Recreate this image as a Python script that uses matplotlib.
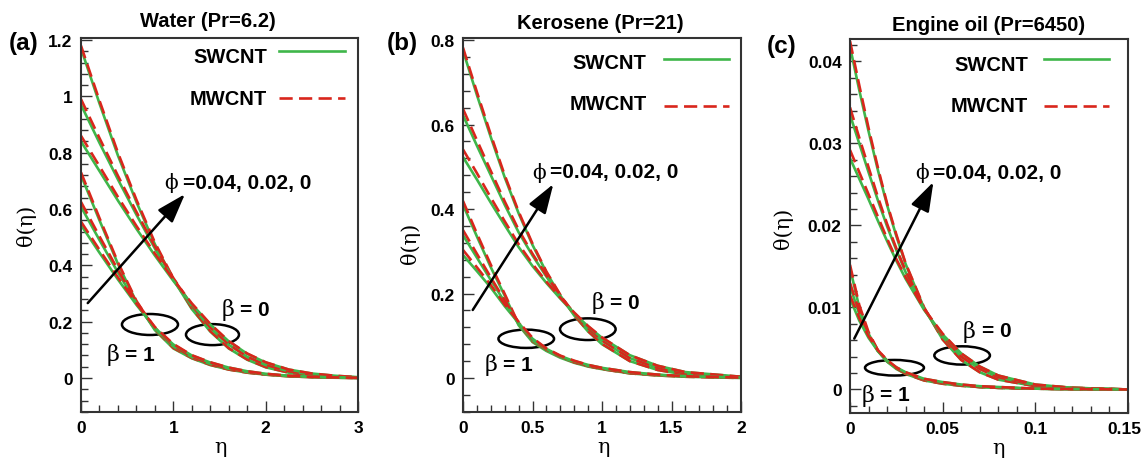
import matplotlib
matplotlib.use('Agg')
import matplotlib.pyplot as plt
from matplotlib.patches import Ellipse
from matplotlib.ticker import MultipleLocator, FuncFormatter

plt.rcParams['font.family'] = ['Liberation Sans', 'DejaVu Sans']
plt.rcParams['font.weight'] = 'bold'

GREEN = '#3fb64a'
RED = '#d9261c'
SERIF = ['DejaVu Serif']

# ---- (a) Water, Pr = 6.2 ----
eta_a = [0, 0.2, 0.4, 0.6, 0.8, 1.0, 1.2, 1.4, 1.6, 1.8, 2.0, 2.25, 2.5, 2.75, 3.0]
# beta = 0, three phi values (SWCNT / MWCNT)
a_b0_s1 = [1.17, 0.975, 0.79, 0.625, 0.475, 0.35, 0.245, 0.165, 0.105, 0.065, 0.038, 0.019, 0.009, 0.004, 0.001]
a_b0_m1 = [1.18, 0.985, 0.80, 0.633, 0.481, 0.354, 0.248, 0.167, 0.106, 0.066, 0.039, 0.019, 0.009, 0.004, 0.001]
a_b0_s2 = [0.97, 0.835, 0.705, 0.58, 0.46, 0.35, 0.255, 0.178, 0.118, 0.075, 0.046, 0.024, 0.012, 0.005, 0.002]
a_b0_m2 = [0.99, 0.852, 0.718, 0.59, 0.467, 0.355, 0.258, 0.18, 0.12, 0.076, 0.047, 0.024, 0.012, 0.005, 0.002]
a_b0_s3 = [0.84, 0.735, 0.63, 0.53, 0.435, 0.345, 0.262, 0.19, 0.13, 0.086, 0.055, 0.03, 0.016, 0.008, 0.003]
a_b0_m3 = [0.86, 0.752, 0.643, 0.54, 0.442, 0.35, 0.265, 0.192, 0.131, 0.087, 0.056, 0.03, 0.016, 0.008, 0.003]
# beta = 1
a_b1_s1 = [0.72, 0.56, 0.405, 0.27, 0.17, 0.105, 0.07, 0.046, 0.03, 0.019, 0.012, 0.006, 0.003, 0.001, 0.0]
a_b1_m1 = [0.73, 0.568, 0.411, 0.274, 0.173, 0.107, 0.071, 0.047, 0.03, 0.019, 0.012, 0.006, 0.003, 0.001, 0.0]
a_b1_s2 = [0.608, 0.49, 0.375, 0.265, 0.175, 0.112, 0.074, 0.05, 0.033, 0.021, 0.013, 0.007, 0.004, 0.002, 0.0]
a_b1_m2 = [0.625, 0.503, 0.384, 0.271, 0.179, 0.114, 0.075, 0.05, 0.033, 0.021, 0.013, 0.007, 0.004, 0.002, 0.0]
a_b1_s3 = [0.543, 0.445, 0.35, 0.26, 0.178, 0.119, 0.08, 0.055, 0.037, 0.024, 0.015, 0.008, 0.004, 0.002, 0.001]
a_b1_m3 = [0.555, 0.455, 0.357, 0.265, 0.181, 0.121, 0.081, 0.056, 0.037, 0.024, 0.015, 0.008, 0.004, 0.002, 0.001]

# ---- (b) Kerosene, Pr = 21 ----
eta_b = [0, 0.1, 0.2, 0.3, 0.4, 0.5, 0.6, 0.7, 0.8, 0.9, 1.0, 1.2, 1.4, 1.6, 2.0]
b_b0_s1 = [0.775, 0.67, 0.57, 0.475, 0.39, 0.315, 0.25, 0.195, 0.148, 0.11, 0.08, 0.04, 0.019, 0.008, 0.001]
b_b0_m1 = [0.782, 0.677, 0.576, 0.48, 0.394, 0.318, 0.252, 0.197, 0.149, 0.111, 0.081, 0.04, 0.019, 0.008, 0.001]
b_b0_s2 = [0.622, 0.55, 0.48, 0.41, 0.345, 0.29, 0.24, 0.193, 0.152, 0.117, 0.088, 0.047, 0.024, 0.011, 0.002]
b_b0_m2 = [0.637, 0.563, 0.49, 0.418, 0.351, 0.294, 0.243, 0.195, 0.153, 0.118, 0.089, 0.047, 0.024, 0.011, 0.002]
b_b0_s3 = [0.523, 0.47, 0.415, 0.362, 0.31, 0.265, 0.225, 0.188, 0.153, 0.122, 0.095, 0.054, 0.029, 0.014, 0.003]
b_b0_m3 = [0.541, 0.485, 0.427, 0.371, 0.317, 0.27, 0.228, 0.19, 0.155, 0.123, 0.096, 0.054, 0.029, 0.014, 0.003]
b_b1_s1 = [0.41, 0.335, 0.262, 0.195, 0.125, 0.085, 0.064, 0.048, 0.036, 0.027, 0.021, 0.011, 0.006, 0.003, 0.0]
b_b1_m1 = [0.419, 0.342, 0.268, 0.199, 0.128, 0.087, 0.067, 0.05, 0.037, 0.028, 0.021, 0.011, 0.006, 0.003, 0.0]
b_b1_s2 = [0.338, 0.285, 0.232, 0.18, 0.128, 0.089, 0.066, 0.05, 0.038, 0.029, 0.022, 0.012, 0.007, 0.004, 0.001]
b_b1_m2 = [0.35, 0.294, 0.238, 0.184, 0.131, 0.091, 0.067, 0.051, 0.038, 0.029, 0.022, 0.012, 0.007, 0.004, 0.001]
b_b1_s3 = [0.291, 0.253, 0.214, 0.17, 0.13, 0.093, 0.069, 0.052, 0.04, 0.031, 0.024, 0.014, 0.008, 0.004, 0.001]
b_b1_m3 = [0.303, 0.262, 0.22, 0.174, 0.133, 0.095, 0.07, 0.053, 0.041, 0.031, 0.024, 0.014, 0.008, 0.004, 0.001]

# ---- (c) Engine oil, Pr = 6450 ----
eta_c = [0, 0.005, 0.01, 0.015, 0.02, 0.025, 0.03, 0.04, 0.05, 0.06, 0.07, 0.08, 0.1, 0.12, 0.15]
c_b0_s1 = [0.0418, 0.0365, 0.0315, 0.0268, 0.0225, 0.0187, 0.0153, 0.0099, 0.0061, 0.0036, 0.0021, 0.0012, 0.0004, 0.0001, 0.0]
c_b0_m1 = [0.0425, 0.0371, 0.0319, 0.0271, 0.0227, 0.0189, 0.0154, 0.0100, 0.0061, 0.0036, 0.0021, 0.0012, 0.0004, 0.0001, 0.0]
c_b0_s2 = [0.0335, 0.0300, 0.0265, 0.0231, 0.0199, 0.0170, 0.0143, 0.0098, 0.0064, 0.0040, 0.0025, 0.0015, 0.0005, 0.0002, 0.0]
c_b0_m2 = [0.0344, 0.0307, 0.0271, 0.0235, 0.0202, 0.0172, 0.0145, 0.0099, 0.0065, 0.0040, 0.0025, 0.0015, 0.0005, 0.0002, 0.0]
c_b0_s3 = [0.0282, 0.0257, 0.0232, 0.0206, 0.0181, 0.0157, 0.0135, 0.0097, 0.0067, 0.0044, 0.0028, 0.0017, 0.0006, 0.0002, 0.0]
c_b0_m3 = [0.0292, 0.0265, 0.0238, 0.0211, 0.0184, 0.0159, 0.0137, 0.0098, 0.0068, 0.0044, 0.0028, 0.0017, 0.0006, 0.0002, 0.0]
c_b1_s1 = [0.0148, 0.0100, 0.0068, 0.0047, 0.0034, 0.0025, 0.0019, 0.0011, 0.0007, 0.00045, 0.0003, 0.0002, 0.0001, 0.00003, 0.0]
c_b1_m1 = [0.0152, 0.0103, 0.0070, 0.0048, 0.0035, 0.0026, 0.0019, 0.0011, 0.0007, 0.00045, 0.0003, 0.0002, 0.0001, 0.00003, 0.0]
c_b1_s2 = [0.0126, 0.0092, 0.0066, 0.0047, 0.0034, 0.0026, 0.0020, 0.0012, 0.0008, 0.0005, 0.0003, 0.0002, 0.0001, 0.00004, 0.0]
c_b1_m2 = [0.0130, 0.0095, 0.0068, 0.0048, 0.0035, 0.0026, 0.0020, 0.0012, 0.0008, 0.0005, 0.0003, 0.0002, 0.0001, 0.00004, 0.0]
c_b1_s3 = [0.0111, 0.0084, 0.0063, 0.0047, 0.0035, 0.0027, 0.0021, 0.0013, 0.0009, 0.0006, 0.0004, 0.0003, 0.0001, 0.00005, 0.0]
c_b1_m3 = [0.0115, 0.0087, 0.0065, 0.0048, 0.0036, 0.0027, 0.0021, 0.0013, 0.0009, 0.0006, 0.0004, 0.0003, 0.0001, 0.00005, 0.0]

titles = ['Water (Pr=6.2)', 'Kerosene (Pr=21)', 'Engine oil (Pr=6450)']
tags = ['(a)', '(b)', '(c)']

fig = plt.figure(figsize=(11.42, 4.6), dpi=100)
W, H = 1142.0, 460.0


def box(l, r, t, b):
    return [l / W, 1 - b / H, (r - l) / W, (b - t) / H]


axes = [fig.add_axes(box(81, 358, 38.5, 413)),
        fig.add_axes(box(463, 741, 38.5, 413)),
        fig.add_axes(box(850, 1128, 40, 414))]

panels = [
    (eta_a, [(a_b0_s1, a_b0_m1), (a_b0_s2, a_b0_m2), (a_b0_s3, a_b0_m3),
             (a_b1_s1, a_b1_m1), (a_b1_s2, a_b1_m2), (a_b1_s3, a_b1_m3)]),
    (eta_b, [(b_b0_s1, b_b0_m1), (b_b0_s2, b_b0_m2), (b_b0_s3, b_b0_m3),
             (b_b1_s1, b_b1_m1), (b_b1_s2, b_b1_m2), (b_b1_s3, b_b1_m3)]),
    (eta_c, [(c_b0_s1, c_b0_m1), (c_b0_s2, c_b0_m2), (c_b0_s3, c_b0_m3),
             (c_b1_s1, c_b1_m1), (c_b1_s2, c_b1_m2), (c_b1_s3, c_b1_m3)]),
]

for ax, (eta, curves) in zip(axes, panels):
    for s, m in curves:
        ax.plot(eta, s, color=GREEN, lw=1.9, solid_capstyle='butt')
        ax.plot(eta, m, color=RED, lw=1.9, dashes=(5.0, 2.4))

# axis ranges and ticks
lims = [((0, 3), (-0.1207, 1.209), 1, 0.2, 0.2, 0.04),
        ((0, 2), (-0.0805, 0.806), 0.5, 0.1, 0.2, 0.04),
        ((0, 0.15), (-0.00287, 0.04274), 0.05, 0.01, 0.01, 0.002)]
fmt = FuncFormatter(lambda v, p: '%g' % round(v, 6))
# the last label of panel (c) sits on the figure edge; it is drawn separately
fmt_c = FuncFormatter(lambda v, p: '' if v > 0.149 else '%g' % round(v, 6))
for i, (ax, (xl, yl, xM, xm, yM, ym)) in enumerate(zip(axes, lims)):
    ax.set_xlim(*xl)
    ax.set_ylim(*yl)
    ax.xaxis.set_major_locator(MultipleLocator(xM))
    ax.xaxis.set_minor_locator(MultipleLocator(xm))
    ax.yaxis.set_major_locator(MultipleLocator(yM))
    ax.yaxis.set_minor_locator(MultipleLocator(ym))
    ax.xaxis.set_major_formatter(fmt_c if i == 2 else fmt)
    ax.yaxis.set_major_formatter(fmt)
    ax.tick_params(which='both', direction='in', top=False, right=False,
                   width=1, color='#333333', labelsize=12.5, pad=6)
    ax.tick_params(which='major', length=8)
    ax.tick_params(which='minor', length=5)
    for lab in ax.get_xticklabels() + ax.get_yticklabels():
        lab.set_fontweight('bold')
    for sp in ax.spines.values():
        sp.set_linewidth(1.5)
        sp.set_color('#333333')

fig.text(1124 / W, 1 - 422.3 / H, '0.15', ha='center', va='top',
         fontsize=12.5, fontweight='bold')

# titles, tags, axis labels
title_pos = [(0.457, 1.045), (0.493, 1.039), (0.498, 1.040)]
tag_pos = [(0.0079, 0.9065), (0.3389, 0.9065), (0.6716, 0.898)]
ylab_pos = [(-0.20, 0.50), (-0.19, 0.454), (-0.24, 0.497)]
xlab_pos = [(0.502, -0.093), (0.507, -0.093), (0.536, -0.093)]
for i, ax in enumerate(axes):
    ax.text(title_pos[i][0], title_pos[i][1], titles[i], transform=ax.transAxes,
            ha='center', va='center', fontsize=14.5, fontweight='bold')
    fig.text(tag_pos[i][0], tag_pos[i][1], tags[i], ha='left', va='center',
             fontsize=17.5, fontweight='bold')
    ax.text(ylab_pos[i][0], ylab_pos[i][1], 'θ(η)', transform=ax.transAxes,
            rotation=90, ha='center', va='center', fontsize=15,
            family=SERIF, fontweight='normal')
    ax.text(xlab_pos[i][0], xlab_pos[i][1], 'η', transform=ax.transAxes,
            ha='center', va='center', fontsize=15, family=SERIF,
            fontweight='normal')

# legend drawn by hand, as in the original
leg = [(0.671, 0.948, 0.964, 0.838, 0.839, 0.715, 0.953),
       (0.661, 0.932, 0.943, 0.825, 0.818, 0.723, 0.957),
       (0.640, 0.931, 0.947, 0.821, 0.822, 0.698, 0.932)]
for ax, (tx, ys, yls, ym, ylm, x0, x1) in zip(axes, leg):
    ax.text(tx, ys, 'SWCNT', transform=ax.transAxes, ha='right', va='center',
            fontsize=14.5, fontweight='bold')
    ax.text(tx, ym, 'MWCNT', transform=ax.transAxes, ha='right', va='center',
            fontsize=14.5, fontweight='bold')
    ax.plot([x0, x1], [yls, yls], transform=ax.transAxes, color=GREEN, lw=1.9)
    ax.plot([x0, x1], [ylm, ylm], transform=ax.transAxes, color=RED, lw=1.9,
            dashes=(5.0, 2.4))

# phi annotation with arrow
phi_pos = [(0.300, 0.367, 0.614), (0.249, 0.313, 0.641), (0.234, 0.300, 0.644)]
arrows = [((0.073, 0.266), (1.126, 0.653)),
          ((0.07, 0.161), (0.65, 0.459)),
          ((0.0023, 0.0062), (0.045, 0.0253))]
for ax, (xp, xe, yp), (st, tip) in zip(axes, phi_pos, arrows):
    ax.text(xp, yp, 'ϕ', transform=ax.transAxes, ha='left', va='center',
            fontsize=14.5, family=SERIF, fontweight='normal')
    ax.text(xe, yp, '=0.04, 0.02, 0', transform=ax.transAxes, ha='left',
            va='center', fontsize=15, fontweight='bold')
    ax.annotate('', xy=tip, xytext=st,
                arrowprops=dict(arrowstyle='-|>,head_length=0.9,head_width=0.3',
                                color='black', lw=1.8, mutation_scale=20,
                                shrinkA=0, shrinkB=0))

# beta ellipses and labels (data coordinates)
ell = [[(0.747, 0.190, 0.607, 0.0745), (1.424, 0.154, 0.574, 0.0745)],
       [(0.455, 0.0928, 0.40, 0.0433), (0.898, 0.1155, 0.40, 0.0513)],
       [(0.024, 0.00265, 0.0318, 0.0019), (0.0605, 0.00415, 0.030, 0.00223)]]
beta_txt = [[(0.278, 0.477, 0.085, '1'), (1.524, 1.722, 0.245, '0')],
            [(0.158, 0.29, 0.0331, '1'), (0.926, 1.058, 0.179, '0')],
            [(0.0063, 0.0162, -0.00063, '1'), (0.0608, 0.0711, 0.00717, '0')]]
for ax, es, bs in zip(axes, ell, beta_txt):
    for cx, cy, w, h in es:
        ax.add_patch(Ellipse((cx, cy), w, h, fill=False, ec='black', lw=1.8))
    for xb, xe, yb, val in bs:
        ax.text(xb, yb, 'β', ha='left', va='center', fontsize=16,
                family=SERIF, fontweight='normal')
        ax.text(xe, yb, '= ' + val, ha='left', va='center', fontsize=15,
                fontweight='bold')

plt.savefig('out.png', dpi=100)
